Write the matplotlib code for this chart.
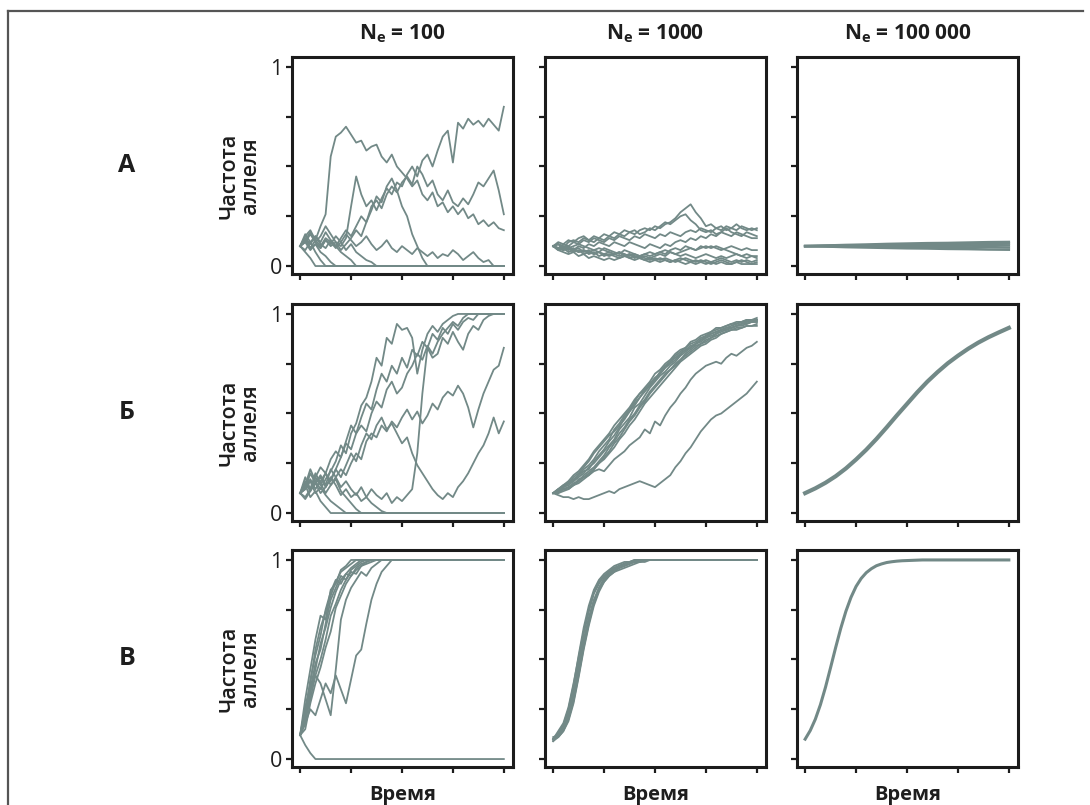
import numpy as np
import matplotlib
matplotlib.use("Agg")
import matplotlib.pyplot as plt
from matplotlib.lines import Line2D

plt.rcParams['font.family'] = ['Open Sans', 'DejaVu Sans']
plt.rcParams['mathtext.fontset'] = 'custom'
plt.rcParams['mathtext.rm'] = 'Open Sans'
plt.rcParams['mathtext.bf'] = 'Open Sans:bold'

# ---------------- data ----------------
col_titles = [r'$\mathbf{N_e}$ = 100', r'$\mathbf{N_e}$ = 1000', r'$\mathbf{N_e}$ = 100 000']
row_labels = ['А', 'Б', 'В']
y_label = 'Частота\nаллеля'
x_label = 'Время'
y_ticks = [0, 0.25, 0.5, 0.75, 1]
y_ticklabels = ['0', '', '', '', '1']
x_ticks = [0, 1, 2, 3, 4]

# Row A, Ne = 100
A_100 = [
    [0.10,0.13,0.17,0.12,0.15,0.20,0.16,0.12,0.10,0.14,0.30, 0.45,0.36,0.30,0.33,0.28,0.34,0.39,0.36,0.42,0.40,
     0.46,0.50,0.45,0.53,0.56,0.50,0.58,0.65,0.68,0.52, 0.72,0.69,0.74,0.71,0.73,0.70,0.74,0.71,0.68,0.80],
    [0.10,0.14,0.09,0.13,0.20,0.26,0.55,0.65,0.67,0.70,0.66, 0.62,0.63,0.58,0.60,0.61,0.55,0.52,0.56,0.50,0.47,
     0.44,0.40,0.43,0.36,0.33,0.37,0.30,0.32,0.27,0.30, 0.26,0.29,0.24,0.26,0.21,0.23,0.20,0.22,0.19,0.18],
    [0.10,0.08,0.12,0.15,0.11,0.09,0.13,0.10,0.14,0.18,0.15, 0.20,0.25,0.22,0.30,0.33,0.29,0.36,0.40,0.37,0.42,
     0.45,0.41,0.50,0.46,0.40,0.43,0.36,0.33,0.38,0.32, 0.30,0.34,0.31,0.36,0.42,0.40,0.44,0.48,0.38,0.26],
    [0.10,0.12,0.08,0.11,0.09,0.13,0.10,0.12,0.08,0.11,0.14, 0.18,0.15,0.22,0.28,0.35,0.32,0.40,0.44,0.38,0.30,
     0.25,0.16,0.10,0.04] + [0.0]*16,
    [0.10,0.15,0.18,0.13,0.10,0.14,0.12,0.09,0.12,0.16,0.13, 0.10,0.12,0.15,0.11,0.08,0.10,0.13,0.09,0.07,0.10,
     0.08,0.06,0.09,0.07,0.05,0.07,0.04,0.06,0.05,0.08, 0.06,0.03,0.05,0.07,0.04,0.02,0.03,0.0,0.0,0.0],
    [0.10,0.07,0.04] + [0.0]*38,
    [0.10,0.13,0.09,0.11,0.07,0.05,0.02] + [0.0]*34,
    [0.10,0.14,0.11,0.15,0.12,0.17,0.13,0.10,0.07,0.05,0.03] + [0.0]*30,
    [0.10,0.12,0.16,0.12,0.09,0.13,0.11,0.15,0.12,0.08,0.11,0.07,0.05,0.03,0.02] + [0.0]*26,
    [0.10,0.16,0.12,0.07,0.03] + [0.0]*36,
]

# Row A, Ne = 1000
A_1000 = [
    [0.10,0.11,0.09,0.12,0.13,0.12,0.14,0.13,0.15,0.14,0.16, 0.15,0.17,0.16,0.18,0.17,0.16,0.18,0.19,0.18,0.20,
     0.19,0.21,0.22,0.24,0.27,0.29,0.31,0.27,0.24,0.20, 0.21,0.19,0.20,0.18,0.19,0.21,0.19,0.18,0.19,0.18],
    [0.10,0.12,0.11,0.13,0.12,0.14,0.15,0.13,0.12,0.14,0.13, 0.15,0.14,0.16,0.15,0.17,0.18,0.16,0.17,0.19,0.18,
     0.20,0.22,0.21,0.23,0.25,0.26,0.23,0.21,0.18,0.17, 0.18,0.16,0.17,0.19,0.17,0.16,0.15,0.17,0.16,0.15],
    [0.10,0.09,0.11,0.10,0.12,0.11,0.13,0.12,0.14,0.13,0.12, 0.14,0.13,0.15,0.14,0.13,0.15,0.14,0.16,0.15,0.14,
     0.16,0.15,0.17,0.16,0.15,0.17,0.18,0.17,0.19,0.18, 0.17,0.19,0.18,0.20,0.19,0.18,0.20,0.19,0.18,0.19],
    [0.10,0.08,0.09,0.07,0.08,0.10,0.09,0.11,0.10,0.12,0.11, 0.10,0.12,0.11,0.10,0.12,0.11,0.10,0.09,0.11,0.10,
     0.09,0.11,0.10,0.12,0.13,0.12,0.14,0.13,0.15,0.14, 0.16,0.15,0.17,0.16,0.15,0.17,0.16,0.15,0.14,0.14],
    [0.10,0.09,0.08,0.09,0.07,0.08,0.06,0.07,0.08,0.07,0.09, 0.08,0.07,0.06,0.08,0.07,0.06,0.05,0.06,0.05,0.06,
     0.07,0.06,0.08,0.09,0.08,0.10,0.09,0.08,0.10,0.09, 0.10,0.09,0.08,0.09,0.10,0.09,0.08,0.09,0.08,0.08],
    [0.10,0.11,0.09,0.10,0.08,0.09,0.07,0.08,0.06,0.07,0.05, 0.06,0.05,0.04,0.05,0.06,0.05,0.04,0.05,0.04,0.05,
     0.06,0.05,0.07,0.06,0.05,0.06,0.05,0.04,0.05,0.06, 0.05,0.04,0.05,0.04,0.05,0.06,0.05,0.04,0.05,0.05],
    [0.10,0.08,0.07,0.06,0.07,0.05,0.06,0.04,0.05,0.04,0.03, 0.04,0.03,0.04,0.05,0.04,0.03,0.04,0.03,0.02,0.03,
     0.04,0.03,0.02,0.03,0.04,0.03,0.02,0.03,0.02,0.03, 0.02,0.03,0.04,0.03,0.02,0.03,0.02,0.03,0.02,0.03],
    [0.10,0.09,0.10,0.08,0.09,0.07,0.08,0.06,0.07,0.05,0.06, 0.07,0.06,0.05,0.06,0.04,0.05,0.04,0.03,0.04,0.03,
     0.02,0.03,0.02,0.03,0.02,0.01,0.02,0.01,0.02,0.01, 0.02,0.01,0.02,0.01,0.01,0.02,0.01,0.01,0.01,0.01],
    [0.10,0.09,0.08,0.09,0.08,0.07,0.08,0.07,0.06,0.07,0.06, 0.05,0.06,0.07,0.06,0.05,0.06,0.05,0.06,0.07,0.06,
     0.07,0.08,0.07,0.06,0.07,0.08,0.09,0.08,0.09,0.10, 0.09,0.10,0.09,0.08,0.07,0.06,0.05,0.06,0.05,0.04],
    [0.10,0.11,0.10,0.09,0.10,0.11,0.10,0.09,0.08,0.09,0.08, 0.07,0.06,0.07,0.05,0.06,0.04,0.05,0.04,0.03,0.04,
     0.03,0.04,0.03,0.02,0.03,0.04,0.03,0.02,0.03,0.02, 0.01,0.02,0.03,0.02,0.01,0.02,0.03,0.02,0.01,0.02],
]

# Row A, Ne = 100 000
A_100000 = [
    [0.100,0.103,0.106,0.108,0.111,0.113,0.115,0.116,0.118,0.120,0.121],
    [0.100,0.102,0.104,0.105,0.107,0.109,0.108,0.110,0.112,0.113,0.114],
    [0.100,0.101,0.100,0.102,0.101,0.103,0.102,0.104,0.103,0.105,0.104],
    [0.100,0.099,0.097,0.098,0.096,0.097,0.095,0.096,0.094,0.095,0.093],
    [0.100,0.098,0.095,0.093,0.091,0.089,0.088,0.086,0.085,0.083,0.082],
]

# Row B, Ne = 100
B_100 = [
    [0.10,0.14,0.22,0.16,0.12,0.17,0.21,0.26,0.34,0.30,0.40, 0.45,0.54,0.58,0.66,0.78,0.74,0.88,0.85,0.95,0.92,
     0.93,0.88,0.70,0.82,0.90,0.94,0.91,0.95,0.97,0.99] + [1.0]*10,
    [0.10,0.08,0.12,0.18,0.14,0.20,0.16,0.22,0.28,0.35,0.32, 0.40,0.44,0.41,0.50,0.56,0.53,0.62,0.66,0.60,0.63,
     0.70,0.74,0.80,0.77,0.84,0.80,0.86,0.90,0.93,0.96, 0.94,0.98] + [1.0]*8,
    [0.10,0.18,0.12,0.15,0.10,0.13,0.18,0.14,0.09,0.12,0.08, 0.10,0.06,0.08,0.12,0.09,0.07,0.10,0.05,0.08,0.06,
     0.09,0.12,0.30,0.60,0.83,0.78,0.80,0.88,0.85,0.91, 0.86,0.82,0.90,0.94,0.92,0.97,0.99,1.0,1.0,1.0],
    [0.10,0.16,0.12,0.20,0.15,0.10,0.14,0.18,0.22,0.19,0.25, 0.30,0.27,0.36,0.40,0.38,0.44,0.41,0.46,0.43,0.48,
     0.52,0.47,0.51,0.45,0.49,0.55,0.52,0.58,0.61,0.59, 0.64,0.60,0.53,0.43,0.52,0.60,0.66,0.72,0.74,0.83],
    [0.10,0.12,0.20,0.15,0.18,0.13,0.17,0.22,0.18,0.24,0.30, 0.26,0.34,0.40,0.37,0.44,0.48,0.42,0.45,0.40,0.35,
     0.38,0.30,0.24,0.20,0.16,0.12,0.09,0.07,0.10,0.08, 0.13,0.16,0.20,0.25,0.30,0.34,0.40,0.48,0.40,0.46],
    [0.10,0.15,0.11,0.18,0.23,0.20,0.27,0.31,0.28,0.36,0.44, 0.40,0.48,0.55,0.52,0.62,0.70,0.66,0.74,0.70,0.78,
     0.73,0.82,0.79,0.86,0.83,0.90,0.87,0.93,0.90,0.95, 0.92,0.96,0.98,0.97] + [1.0]*6,
    [0.10,0.14,0.08,0.11,0.06,0.03] + [0.0]*35,
    [0.10,0.13,0.17,0.12,0.16,0.20,0.14,0.17,0.11,0.08,0.05,0.02] + [0.0]*29,
    [0.10,0.07,0.11,0.15,0.19,0.14,0.22,0.18,0.13,0.16,0.12,0.09,0.13,0.08,0.05,0.03,0.01] + [0.0]*24,
    [0.10,0.12,0.16,0.10,0.13,0.09,0.06,0.04,0.02] + [0.0]*32,
]

# Row B, Ne = 1000
B_1000 = [
    [0.10,0.12,0.13,0.15,0.17,0.19,0.22,0.24,0.27,0.31,0.34, 0.37,0.42,0.45,0.49,0.52,0.56,0.60,0.63,0.66,0.70,
     0.72,0.75,0.77,0.80,0.82,0.83,0.86,0.87,0.89,0.90, 0.91,0.93,0.93,0.94,0.95,0.96,0.96,0.97,0.97,0.98],
    [0.10,0.11,0.13,0.14,0.16,0.18,0.20,0.23,0.25,0.28,0.31, 0.34,0.37,0.42,0.45,0.48,0.53,0.55,0.59,0.63,0.66,
     0.69,0.71,0.74,0.76,0.79,0.81,0.83,0.85,0.87,0.88, 0.90,0.91,0.92,0.93,0.94,0.95,0.96,0.96,0.97,0.97],
    [0.10,0.10,0.12,0.13,0.14,0.16,0.19,0.21,0.23,0.26,0.29, 0.33,0.36,0.40,0.43,0.47,0.50,0.54,0.57,0.61,0.64,
     0.67,0.70,0.72,0.75,0.77,0.80,0.82,0.84,0.85,0.87, 0.88,0.90,0.91,0.92,0.93,0.94,0.94,0.95,0.96,0.96],
    [0.10,0.12,0.14,0.16,0.19,0.21,0.24,0.27,0.31,0.34,0.37, 0.40,0.44,0.47,0.50,0.53,0.57,0.60,0.62,0.65,0.68,
     0.70,0.73,0.75,0.77,0.80,0.82,0.83,0.85,0.86,0.88, 0.89,0.90,0.92,0.92,0.93,0.94,0.95,0.95,0.96,0.97],
    [0.10,0.11,0.12,0.12,0.14,0.15,0.17,0.19,0.22,0.25,0.28, 0.31,0.35,0.38,0.42,0.46,0.49,0.53,0.56,0.60,0.63,
     0.66,0.69,0.72,0.74,0.77,0.79,0.81,0.83,0.85,0.86, 0.88,0.89,0.90,0.91,0.92,0.93,0.93,0.94,0.94,0.95],
    [0.10,0.11,0.13,0.15,0.16,0.19,0.21,0.22,0.26,0.29,0.32, 0.36,0.39,0.43,0.48,0.51,0.54,0.58,0.61,0.64,0.67,
     0.70,0.73,0.76,0.78,0.80,0.82,0.84,0.85,0.87,0.89, 0.90,0.91,0.92,0.93,0.93,0.94,0.95,0.96,0.96,0.96],
    [0.10,0.10,0.11,0.12,0.14,0.17,0.18,0.20,0.22,0.25,0.27, 0.30,0.33,0.37,0.40,0.44,0.47,0.51,0.55,0.58,0.61,
     0.64,0.67,0.70,0.73,0.76,0.78,0.80,0.82,0.84,0.85, 0.87,0.88,0.90,0.91,0.92,0.92,0.93,0.94,0.94,0.94],
    [0.10,0.12,0.14,0.15,0.18,0.20,0.23,0.26,0.30,0.33,0.36, 0.39,0.41,0.44,0.47,0.51,0.55,0.58,0.62,0.64,0.67,
     0.71,0.74,0.76,0.79,0.81,0.83,0.85,0.86,0.88,0.89, 0.91,0.92,0.93,0.94,0.95,0.95,0.96,0.97,0.97,0.97],
    [0.10,0.11,0.12,0.13,0.15,0.16,0.18,0.19,0.21,0.22,0.21, 0.24,0.27,0.29,0.31,0.34,0.36,0.38,0.42,0.40,0.46,
     0.44,0.49,0.53,0.56,0.60,0.63,0.67,0.70,0.72,0.74, 0.75,0.76,0.75,0.78,0.80,0.79,0.81,0.83,0.84,0.86],
    [0.10,0.09,0.08,0.08,0.07,0.08,0.07,0.07,0.08,0.09,0.10, 0.11,0.10,0.12,0.13,0.14,0.15,0.16,0.15,0.14,0.13,
     0.15,0.17,0.19,0.23,0.26,0.30,0.33,0.37,0.41,0.44, 0.47,0.49,0.50,0.52,0.54,0.56,0.58,0.60,0.63,0.66],
]

# Row B, Ne = 100 000
B_100000 = [
    [0.100,0.124,0.152,0.185,0.224,0.269,0.318,0.372,0.430,0.490,0.548,
     0.606,0.660,0.708,0.752,0.790,0.825,0.856,0.883,0.907,0.930],
]

# Row C, Ne = 100
C_100 = [
    [0.12,0.07,0.03] + [0.0]*38,
    [0.12,0.18,0.25,0.22,0.30,0.38,0.33,0.42,0.35,0.28,0.40, 0.52,0.55,0.68,0.80,0.88,0.94,0.97] + [1.0]*23,
    [0.12,0.25,0.35,0.42,0.38,0.30,0.22,0.45,0.70,0.80,0.86, 0.90,0.94,0.92,0.96,0.98] + [1.0]*25,
    [0.12,0.30,0.45,0.60,0.72,0.70,0.85,0.88,0.95,0.97] + [1.0]*31,
    [0.12,0.22,0.40,0.52,0.62,0.75,0.84,0.90,0.88,0.93,0.96, 0.98] + [1.0]*29,
    [0.12,0.18,0.35,0.48,0.55,0.68,0.80,0.86,0.92,0.90,0.95, 0.97,0.99] + [1.0]*28,
    [0.12,0.20,0.30,0.42,0.50,0.60,0.72,0.78,0.85,0.90,0.94, 0.93,0.97,0.99] + [1.0]*27,
    [0.12,0.15,0.28,0.38,0.46,0.56,0.64,0.76,0.82,0.88,0.92, 0.95,0.97,0.98,0.99] + [1.0]*26,
    [0.12,0.26,0.38,0.55,0.66,0.74,0.82,0.89,0.94,0.96,0.98] + [1.0]*30,
    [0.12,0.20,0.33,0.45,0.58,0.66,0.76,0.84,0.90,0.93,0.92, 0.96,0.98,0.99] + [1.0]*27,
]

# Row C, Ne = 1000
C_1000 = [
    [0.10,0.13,0.17,0.25,0.37,0.52,0.66,0.77,0.85,0.90,0.93,0.95,0.97,0.98,0.99,0.99] + [1.0]*25,
    [0.10,0.12,0.15,0.21,0.31,0.45,0.59,0.71,0.80,0.86,0.90,0.93,0.95,0.96,0.97,0.98,0.99,0.99] + [1.0]*23,
    [0.09,0.11,0.14,0.19,0.28,0.41,0.55,0.67,0.77,0.84,0.89,0.92,0.94,0.96,0.97,0.98,0.99,0.99] + [1.0]*23,
    [0.10,0.13,0.16,0.23,0.34,0.49,0.63,0.74,0.83,0.88,0.92,0.94,0.96,0.97,0.98,0.99,0.99] + [1.0]*24,
    [0.11,0.12,0.16,0.22,0.33,0.47,0.60,0.70,0.79,0.85,0.89,0.92,0.94,0.95,0.96,0.97,0.98,0.99,0.99] + [1.0]*22,
    [0.10,0.14,0.18,0.26,0.38,0.51,0.64,0.75,0.84,0.89,0.92,0.94,0.96,0.97,0.98,0.99] + [1.0]*25,
    [0.09,0.12,0.15,0.20,0.30,0.43,0.57,0.69,0.78,0.85,0.90,0.93,0.95,0.97,0.98,0.99,0.99] + [1.0]*24,
    [0.10,0.11,0.14,0.20,0.29,0.42,0.56,0.68,0.79,0.86,0.91,0.94,0.96,0.97,0.98,0.99,0.99] + [1.0]*24,
]

# Row C, Ne = 100 000
C_100000 = [
    [0.100,0.143,0.200,0.273,0.361,0.460,0.561,0.657,0.742,0.812,0.867,0.907,0.936,0.956,0.971,
     0.980,0.987,0.991,0.994,0.996,0.997,0.998,0.999] + [1.0]*18,
]

panels = [[A_100, A_1000, A_100000],
          [B_100, B_1000, B_100000],
          [C_100, C_1000, C_100000]]
line_widths = [[1.3, 1.3, 1.8], [1.3, 1.3, 3.0], [1.3, 1.3, 2.2]]

# ---------------- layout ----------------
W, H = 1090, 805
fig = plt.figure(figsize=(W / 100, H / 100), dpi=100)

def rect(l, t, w, h):
    return [l / W, 1 - (t + h) / H, w / W, h / H]

col_lefts = [292, 545, 797]
row_tops = [57, 304, 550]
ax_w, ax_h = 221, 217
line_color = '#72898 7'.replace(' ', '')
spine_color = '#1c1c1c'
text_color = '#1e1e1e'

for r in range(3):
    for c in range(3):
        ax = fig.add_axes(rect(col_lefts[c], row_tops[r], ax_w, ax_h))
        for traj in panels[r][c]:
            t = np.linspace(0, 4, len(traj))
            ax.plot(t, traj, color=line_color, lw=line_widths[r][c], solid_joinstyle='round')
        ax.set_xlim(-0.16, 4.18)
        ax.set_ylim(-0.04, 1.05)
        ax.set_xticks(x_ticks)
        ax.set_xticklabels([])
        ax.set_yticks(y_ticks)
        if c == 0:
            ax.set_yticklabels(y_ticklabels, fontsize=15.5, color=text_color)
        else:
            ax.set_yticklabels([])
        ax.tick_params(direction='out', length=4, width=1.6, color=spine_color, pad=3)
        for s in ax.spines.values():
            s.set_linewidth(2.2)
            s.set_color(spine_color)
        if r == 0:
            ax.set_title(col_titles[c], fontsize=15, fontweight='bold', color=text_color, pad=13)
        if r == 2:
            ax.set_xlabel(x_label, fontsize=14.5, fontweight='bold', color=text_color, labelpad=6)

for r in range(3):
    fig.text(127 / W, 1 - (row_tops[r] + 108) / H, row_labels[r], fontsize=18, fontweight='bold',
             color=text_color, ha='center', va='center')
    fig.text(240 / W, 1 - (row_tops[r] + 119) / H, y_label, fontsize=15.5, fontweight='semibold',
             color=text_color, ha='center', va='center', rotation=90, linespacing=1.05,
             multialignment='center')

# outer frame (top and left)
frame_kw = dict(transform=fig.transFigure, color='#555555', lw=1.6)
fig.add_artist(Line2D([8 / W, 1083 / W], [1 - 11 / H, 1 - 11 / H], **frame_kw))
fig.add_artist(Line2D([8 / W, 8 / W], [0, 1 - 11 / H], **frame_kw))

fig.savefig('out.png', dpi=100)
